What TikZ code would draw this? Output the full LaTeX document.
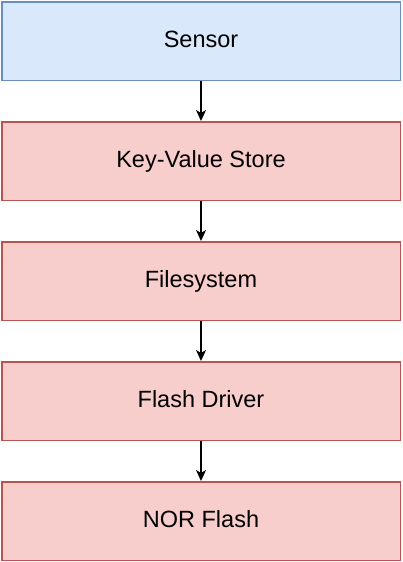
\documentclass[tikz,border=0pt]{standalone}
\usepackage{fontspec}
\setmainfont{Liberation Sans}
\definecolor{SensorFill}{HTML}{DAE8FC}
\definecolor{SensorLine}{HTML}{6C8EBF}
\definecolor{LayerFill}{HTML}{F8CECC}
\definecolor{LayerLine}{HTML}{B85450}
\usetikzlibrary{positioning, arrows.meta}

\tikzset{
    layer/.style = {draw = LayerLine, fill = LayerFill, line width = 1.5pt,
        minimum width = 398.5pt, minimum height = 78.5pt, inner sep = 0pt,
        text height = 17pt, text depth = 5pt,
        font = \fontsize{23.5}{27}\selectfont},
    sensorbox/.style = {layer, draw = SensorLine, fill = SensorFill},
    flow/.style = {line width = 1.3pt, -{Stealth[length = 11pt, width = 10pt, inset = 3pt]}}
}

\begin{document}
\begin{tikzpicture}[x = 1pt, y = 1pt]

\useasboundingbox (0, 0) rectangle (402, -562);

\node[sensorbox] (sensor) at (201, -41) {Sensor};
\node[layer, below = 40pt of sensor] (kv) {Key-Value Store};
\node[layer, below = 40pt of kv] (fs) {Filesystem};
\node[layer, below = 40pt of fs] (driver) {Flash Driver};
\node[layer, below = 40pt of driver] (nor) {NOR Flash};

\draw[flow] (sensor) -- (kv);
\draw[flow] (kv) -- (fs);
\draw[flow] (fs) -- (driver);
\draw[flow] (driver) -- (nor);

\end{tikzpicture}
\end{document}
